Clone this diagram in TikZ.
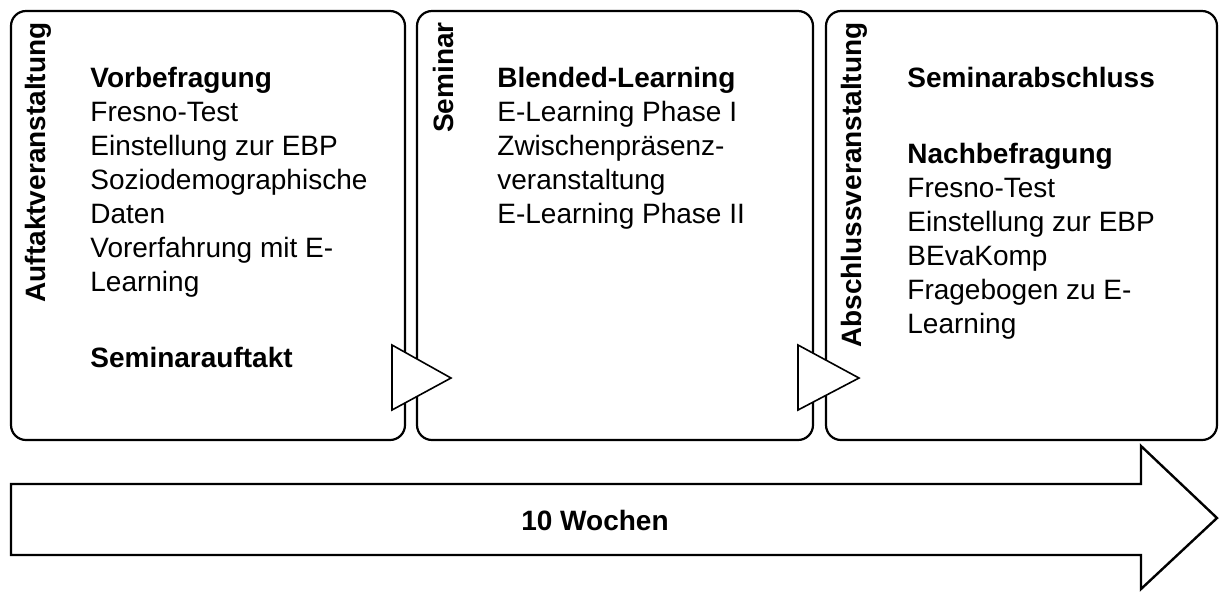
\documentclass[tikz,border=0pt]{standalone}
\usepackage{fontspec}
\setmainfont{Liberation Sans}
\begin{document}
\begin{tikzpicture}[x=0.5pt,y=-0.5pt,
  phase/.style={draw, line width=1.1pt, rounded corners=7.5pt, inner sep=0pt},
  itemlist/.style={font=\fontsize{14}{17}\selectfont, align=left, anchor=north west, inner sep=0pt},
  sidelabel/.style={font=\fontsize{14}{17}\selectfont\bfseries, rotate=90, anchor=base east, inner sep=0pt},
  handover/.style={draw, fill=white, line width=0.8pt, line join=miter},
  timeline/.style={draw, fill=white, line width=1.2pt, line join=miter}]
\useasboundingbox (0,0) rectangle (1220,591);

% the three phases
\node[phase, minimum width=197pt, minimum height=214.5pt] (box1) at (208,225.5) {};
\node[phase, minimum width=198pt, minimum height=214.5pt] (box2) at (615,225.5) {};
\node[phase, minimum width=195.5pt, minimum height=214.5pt] (box3) at (1021.5,225.5) {};

% hand-over marks between the phases
\draw[handover] (392,345) -- (451,378) -- (392,410) -- cycle;
\draw[handover] (798,345) -- (859,378) -- (798,410) -- cycle;

% vertical phase titles
\node[sidelabel] (t1) at (45,22) {Auftaktveranstaltung};
\node[sidelabel] (t2) at (453,22) {Seminar};
\node[sidelabel] (t3) at (861,22) {Abschlussveranstaltung};

% contents of each phase
\node[itemlist] (c1) at (90,67) {\textbf{Vorbefragung}\\
  Fresno-Test\\
  Einstellung zur EBP\\
  Soziodemographische\\
  Daten\\
  Vorerfahrung mit E-\\
  Learning\\[21pt]
  \textbf{Seminarauftakt}};
\node[itemlist] (c2) at (497,67) {\textbf{Blended-Learning}\\
  E-Learning Phase I\\
  Zwischenpräsenz-\\
  veranstaltung\\
  E-Learning Phase II};
\node[itemlist] (c3) at (907,67) {\textbf{Seminarabschluss}\\[21pt]
  \textbf{Nachbefragung}\\
  Fresno-Test\\
  Einstellung zur EBP\\
  BEvaKomp\\
  Fragebogen zu E-\\
  Learning};

% time line
\draw[timeline] (11,484) -- (1141,484) -- (1141,446) -- (1217,518)
  -- (1141,589) -- (1141,555) -- (11,555) -- cycle;
\node[font=\fontsize{14}{17}\selectfont\bfseries, inner sep=0pt] (dur) at (595,520) {10 Wochen};
\end{tikzpicture}
\end{document}
